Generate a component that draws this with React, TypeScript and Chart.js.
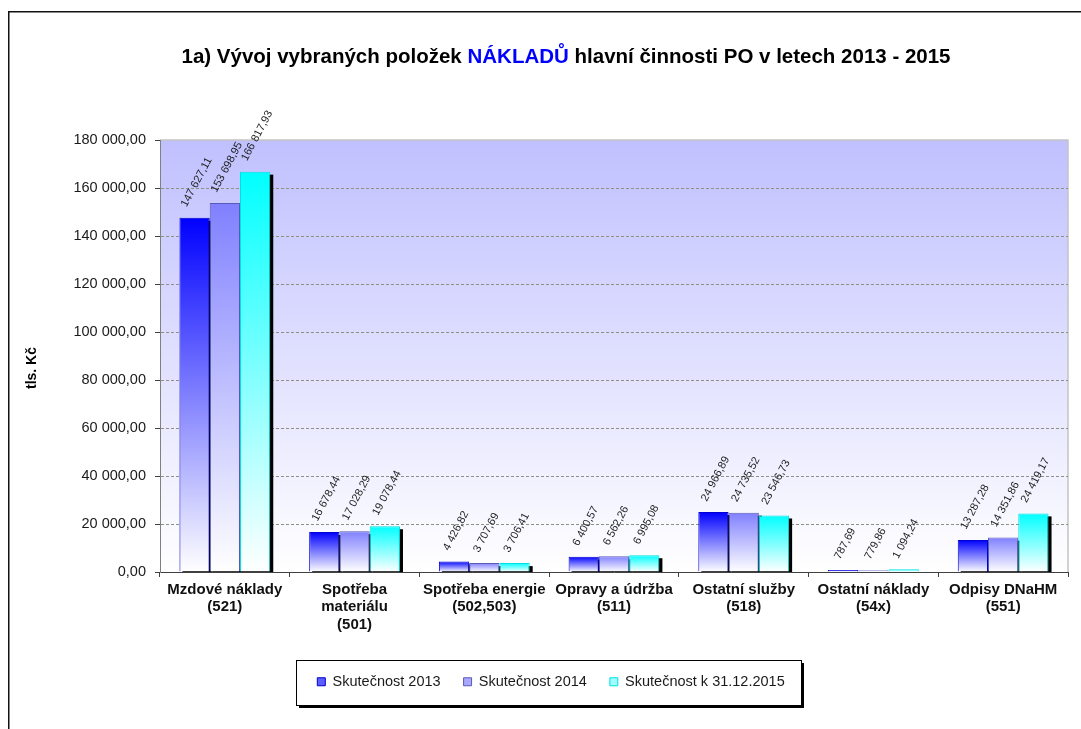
import { useEffect, useRef } from "react";
import { Chart, registerables } from "chart.js";

Chart.register(...registerables);

// ---------- data ----------
const categories: string[][] = [
  ["Mzdové náklady", "(521)"],
  ["Spotřeba", "materiálu", "(501)"],
  ["Spotřeba energie", "(502,503)"],
  ["Opravy a údržba", "(511)"],
  ["Ostatní služby", "(518)"],
  ["Ostatní náklady", "(54x)"],
  ["Odpisy DNaHM", "(551)"],
];
const seriesNames = ["Skutečnost 2013", "Skutečnost 2014", "Skutečnost k 31.12.2015"];
const values2013 = [147627.11, 16678.44, 4426.82, 6400.57, 24966.89, 787.69, 13287.28];
const values2014 = [153698.95, 17028.29, 3707.69, 6562.26, 24735.52, 779.86, 14351.86];
const values2015 = [166817.93, 19078.44, 3706.41, 6995.08, 23546.73, 1094.24, 24419.17];
const yTickValues = [0, 20000, 40000, 60000, 80000, 100000, 120000, 140000, 160000, 180000];
const titleParts = ["1a) Vývoj vybraných položek ", "NÁKLADŮ", " hlavní činnosti PO v letech 2013 - 2015"];
const yAxisTitle = "tls. Kč";

// ---------- styles ----------
const FONT = '"Liberation Sans", Arial, sans-serif';
const topColors = ["#0000ff", "#8080ff", "#00ffff"];
const borderColors = ["#0000d0", "#5a5ab8", "#00e0e0"];
const legendFills = ["#5c5cff", "#a8a8ff", "#9ffcff"];
const W = 1081;
const H = 729;

function fmt(v: number): string {
  const [i, d] = v.toFixed(2).split(".");
  return i.replace(/\B(?=(\d{3})+(?!\d))/g, " ") + "," + d;
}

const allSeries = [values2013, values2014, values2015];

const decorPlugin = {
  id: "decor",
  beforeDraw(chart: any) {
    const { ctx, chartArea: a } = chart;
    ctx.save();
    // page frame
    ctx.fillStyle = "#111";
    ctx.fillRect(8, 11, W, 1.5);
    ctx.fillRect(8, 11, 1.5, H);
    // plot background
    const g = ctx.createLinearGradient(0, a.top, 0, a.bottom);
    g.addColorStop(0, "#c0c0ff");
    g.addColorStop(1, "#ffffff");
    ctx.fillStyle = g;
    ctx.fillRect(a.left, a.top, a.right - a.left, a.bottom - a.top);
    ctx.strokeStyle = "#c4c4c4";
    ctx.lineWidth = 1.5;
    ctx.beginPath();
    ctx.moveTo(a.left, a.top);
    ctx.lineTo(a.right, a.top);
    ctx.lineTo(a.right, a.bottom);
    ctx.stroke();
    // legend frame
    const lg = chart.legend;
    const hb = lg && lg.legendHitBoxes;
    if (hb && hb.length) {
      const first = hb[0];
      const last = hb[hb.length - 1];
      const cy = first.top + first.height / 2;
      const l = Math.round(first.left - 21);
      const r = Math.round(last.left + last.width + 16);
      const t = Math.round(cy - 22);
      const b = Math.round(cy + 23);
      ctx.fillStyle = "#000";
      ctx.fillRect(l + 3, t + 3, r - l, b - t);
      ctx.fillStyle = "#fff";
      ctx.fillRect(l, t, r - l, b - t);
      ctx.strokeStyle = "#000";
      ctx.lineWidth = 1;
      ctx.strokeRect(l + 0.5, t + 0.5, r - l, b - t);
    }
    ctx.restore();
  },
  beforeDatasetsDraw(chart: any) {
    const { ctx, chartArea: a } = chart;
    ctx.save();
    ctx.beginPath();
    ctx.rect(a.left, 0, a.right - a.left + 6, a.bottom);
    ctx.clip();
    ctx.fillStyle = "#000";
    chart.data.datasets.forEach((_: any, di: number) => {
      const meta = chart.getDatasetMeta(di);
      meta.data.forEach((bar: any) => {
        const p = bar.getProps(["x", "y", "base", "width"], true);
        ctx.fillRect(p.x - p.width / 2 + 3, p.y + 3, p.width, p.base - p.y);
      });
    });
    ctx.restore();
  },
  afterDatasetsDraw(chart: any) {
    const { ctx } = chart;
    const ang = (62 * Math.PI) / 180;
    const fs = 11;
    ctx.save();
    ctx.font = `${fs}px ${FONT}`;
    ctx.fillStyle = "#1e1e1e";
    ctx.textAlign = "center";
    ctx.textBaseline = "middle";
    chart.data.datasets.forEach((_: any, di: number) => {
      const meta = chart.getDatasetMeta(di);
      meta.data.forEach((bar: any, i: number) => {
        const txt = fmt(allSeries[di][i]);
        const w = ctx.measureText(txt).width;
        const hh = w * Math.sin(ang) + fs * Math.cos(ang);
        const cx = bar.x + 2;
        const cy = bar.y - 9 - hh / 2;
        ctx.save();
        ctx.translate(cx, cy);
        ctx.rotate(-ang);
        ctx.fillText(txt, 0, 0);
        ctx.restore();
      });
    });
    ctx.restore();
  },
  afterDraw(chart: any) {
    const { ctx } = chart;
    ctx.save();
    // chart title
    ctx.font = `bold 20.5px ${FONT}`;
    ctx.textBaseline = "middle";
    ctx.textAlign = "left";
    const widths = titleParts.map((t) => ctx.measureText(t).width);
    const total = widths.reduce((s, v) => s + v, 0);
    let x = 566 - total / 2;
    titleParts.forEach((t, i) => {
      ctx.fillStyle = i === 1 ? "#0000ff" : "#000000";
      ctx.fillText(t, x, 57);
      x += widths[i];
    });
    // y axis title
    ctx.font = `bold 14px ${FONT}`;
    ctx.fillStyle = "#000";
    ctx.textAlign = "center";
    ctx.translate(32, 368);
    ctx.rotate(-Math.PI / 2);
    ctx.fillText(yAxisTitle, 0, 0);
    ctx.restore();
  },
};

export default function App() {
  const ref = useRef<HTMLCanvasElement | null>(null);

  useEffect(() => {
    if (!ref.current) return;
    const makeBg = (di: number) => (c: any) => {
      const top = topColors[di];
      const chart = c.chart;
      const ys = chart.scales && chart.scales.y;
      if (c.type !== "data" || !chart.chartArea || !ys) return top;
      const yTop = ys.getPixelForValue(c.raw);
      const yBot = ys.getPixelForValue(0);
      if (!isFinite(yTop) || !isFinite(yBot) || yBot - yTop < 0.5) return top;
      const g = chart.ctx.createLinearGradient(0, yTop, 0, yBot);
      g.addColorStop(0, top);
      g.addColorStop(1, "#ffffff");
      return g;
    };
    const yMax = yTickValues[yTickValues.length - 1];
    const chart = new Chart(ref.current, {
      type: "bar",
      data: {
        labels: categories,
        datasets: allSeries.map((vals, di) => ({
          label: seriesNames[di],
          data: vals,
          backgroundColor: makeBg(di),
          borderColor: borderColors[di],
          borderWidth: 1,
          categoryPercentage: 0.7,
          barPercentage: 1.0,
        })),
      },
      options: {
        responsive: false,
        animation: false,
        events: [],
        layout: { padding: { left: 34, right: 13, top: 140, bottom: 30 } },
        plugins: {
          title: { display: false },
          tooltip: { enabled: false },
          legend: {
            display: true,
            position: "bottom",
            labels: {
              boxWidth: 8,
              boxHeight: 8,
              padding: 23,
              color: "#1a1a1a",
              font: { family: FONT, size: 14.5 },
              generateLabels: () =>
                seriesNames.map((n, i) => ({
                  text: n,
                  fillStyle: legendFills[i],
                  strokeStyle: borderColors[i],
                  lineWidth: 1,
                  hidden: false,
                  datasetIndex: i,
                  fontColor: "#1a1a1a",
                })),
            },
          },
        },
        scales: {
          x: {
            offset: true,
            grid: {
              display: true,
              offset: true,
              drawOnChartArea: false,
              drawTicks: true,
              tickLength: 5,
              tickColor: "#404040",
              color: "#404040",
            },
            border: { display: true, color: "#404040", width: 1 },
            ticks: {
              color: "#111",
              padding: 4,
              maxRotation: 0,
              autoSkip: false,
              font: { family: FONT, size: 15, weight: "bold", lineHeight: 1.17 },
            },
            afterFit: (s: any) => {
              s.height = 79.5;
            },
          },
          y: {
            min: 0,
            max: yMax,
            grid: {
              color: (c: any) =>
                c.tick && c.tick.value === yMax ? "rgba(0,0,0,0)" : "#8f8f86",
              tickColor: "#404040",
              tickLength: 5,
              lineWidth: 1,
            },
            border: { display: true, color: "#808080", width: 1, dash: [3, 2] },
            ticks: {
              color: "#1a1a1a",
              padding: 9,
              font: { family: FONT, size: 14.5 },
              callback: (v: any) => fmt(Number(v)),
            },
            afterBuildTicks: (s: any) => {
              s.ticks = yTickValues.map((v) => ({ value: v }));
            },
            afterFit: (s: any) => {
              s.width = 126;
            },
          },
        },
      },
      plugins: [decorPlugin],
    } as any);
    return () => chart.destroy();
  }, []);

  return (
    <div style={{ position: "fixed", left: 0, top: 0, width: W, height: H, background: "#fff" }}>
      <canvas ref={ref} width={W} height={H} style={{ display: "block", width: W, height: H }} />
    </div>
  );
}
